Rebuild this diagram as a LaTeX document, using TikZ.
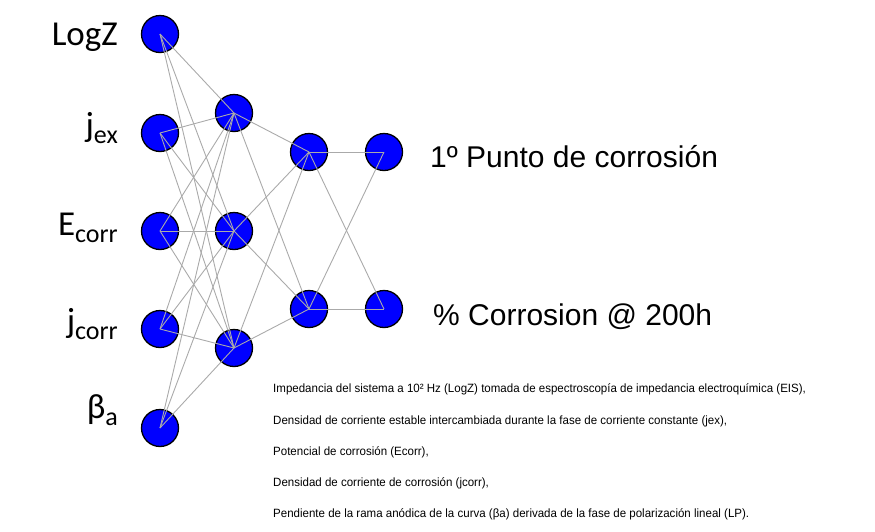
\documentclass[tikz,border=0pt]{standalone}
\usepackage{fontspec}
\usepackage{graphicx}
\setmainfont{Liberation Sans}
\newfontfamily\calib{Carlito}
\definecolor{edgegray}{RGB}{170,170,170}
\definecolor{nodeblue}{RGB}{0,0,255}
\tikzset{
  neuron/.style={circle, draw=black, line width=1.3pt, fill=nodeblue, minimum size=37pt, inner sep=0pt},
  edge/.style={draw=edgegray, line width=0.9pt},
  inlabel/.style={anchor=base east, inner sep=0pt, font=\calib\fontsize{35}{35}\selectfont},
  outlabel/.style={anchor=base west, inner sep=0pt, font=\fontsize{30}{30}\selectfont},
  notes/.style={anchor=base west, inner sep=0pt, font=\fontsize{12}{12}\selectfont}
}
\newcommand{\subtxt}[1]{\raisebox{-7pt}{\fontsize{26}{26}\selectfont #1}}
\newcommand{\ntxt}[1]{\scalebox{0.96}[1]{#1}}
\begin{document}
\begin{tikzpicture}[x=1pt,y=-1pt]
\useasboundingbox (0,0) rectangle (875,531);
% nodes
\node[neuron] (i1) at (160,34) {};
\node[neuron] (i2) at (160,133) {};
\node[neuron] (i3) at (160,231) {};
\node[neuron] (i4) at (160,329) {};
\node[neuron] (i5) at (160,428) {};
\node[neuron] (h1) at (234,113) {};
\node[neuron] (h2) at (234,231) {};
\node[neuron] (h3) at (234,348) {};
\node[neuron] (g1) at (309,152) {};
\node[neuron] (g2) at (309,309) {};
\node[neuron] (o1) at (384,152) {};
\node[neuron] (o2) at (384,309) {};
% edges
\foreach \a in {i1,i2,i3,i4,i5}{
  \foreach \b in {h1,h2,h3}{
    \draw[edge] (\a.center) -- (\b.center);
  }
}
\foreach \a in {h1,h2,h3}{
  \foreach \b in {g1,g2}{
    \draw[edge] (\a.center) -- (\b.center);
  }
}
\foreach \a in {g1,g2}{
  \foreach \b in {o1,o2}{
    \draw[edge] (\a.center) -- (\b.center);
  }
}
% input labels
\node[inlabel] (l1) at (118,45) {LogZ};
\node[inlabel] (l2) at (118,136) {j\subtxt{ex}};
\node[inlabel] (l3) at (118,235) {E\subtxt{corr}};
\node[inlabel] (l4) at (118,332) {j\subtxt{corr}};
\node[inlabel] (l5) at (118,418) {β\subtxt{a}};
% output labels
\node[outlabel] (r1) at (430,167) {1º Punto de corrosión};
\node[outlabel] (r2) at (433,325) {\% Corrosion @ 200h};
% notes
\node[notes] (n1) at (273,392) {\ntxt{Impedancia del sistema a 10² Hz (LogZ) tomada de espectroscopía de impedancia electroquímica (EIS),}};
\node[notes] (n2) at (273,424) {\ntxt{Densidad de corriente estable intercambiada durante la fase de corriente constante (jex),}};
\node[notes] (n3) at (273,455) {\ntxt{Potencial de corrosión (Ecorr),}};
\node[notes] (n4) at (273,486) {\ntxt{Densidad de corriente de corrosión (jcorr),}};
\node[notes] (n5) at (273,517) {\ntxt{Pendiente de la rama anódica de la curva (βa) derivada de la fase de polarización lineal (LP).}};
\end{tikzpicture}
\end{document}
